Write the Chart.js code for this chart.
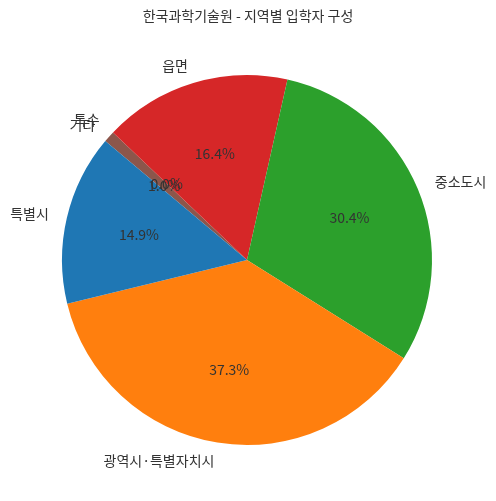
<!DOCTYPE html>
<html><head><meta charset="utf-8">
<script src="https://cdn.jsdelivr.net/npm/chart.js@4"></script>
<style>html,body{margin:0;padding:0;background:#fff;}canvas{display:block;}</style>
</head><body>
<canvas id="c" width="496" height="501"></canvas>
<script>
const titleText = "한국과학기술원 - 지역별 입학자 구성";
// matplotlib order (counterclockwise from 140deg)
const categories = ["특별시", "광역시·특별자치시", "중소도시", "읍면", "특수", "기타"];
const values = [14.9, 37.3, 30.4, 16.4, 0.0, 1.0];
const colors = ["#1f77b4", "#ff7f0e", "#2ca02c", "#d62728", "#9467bd", "#8c564b"];

// Chart.js draws clockwise; reverse to mimic counterclockwise layout
const labelsCW = categories.slice().reverse();
const valuesCW = values.slice().reverse();
const colorsCW = colors.slice().reverse();
const FONT = '"Noto Sans CJK KR", "Noto Sans", sans-serif';

const textPlugin = {
  id: 'pieText',
  afterDraw(chart) {
    const ctx = chart.ctx;
    const meta = chart.getDatasetMeta(0);
    ctx.save();
    ctx.fillStyle = '#333333';
    ctx.font = '14px ' + FONT;
    ctx.textAlign = 'center';
    ctx.textBaseline = 'middle';
    ctx.fillText(titleText, 248, 16);
    const total = valuesCW.reduce((a, b) => a + b, 0);
    meta.data.forEach((arc, i) => {
      const p = arc.getProps(['x', 'y', 'startAngle', 'endAngle', 'outerRadius'], true);
      const mid = (p.startAngle + p.endAngle) / 2;
      const r = p.outerRadius;
      const lx = p.x + Math.cos(mid) * r * 1.1;
      const ly = p.y + Math.sin(mid) * r * 1.1;
      ctx.fillStyle = '#333333';
      ctx.textAlign = Math.cos(mid) >= 0 ? 'left' : 'right';
      ctx.fillText(labelsCW[i], lx, ly);
      const px = p.x + Math.cos(mid) * r * 0.6;
      const py = p.y + Math.sin(mid) * r * 0.6;
      ctx.textAlign = 'center';
      ctx.fillText((valuesCW[i] / total * 100).toFixed(1) + '%', px, py);
    });
    ctx.restore();
  }
};

new Chart(document.getElementById('c'), {
  type: 'pie',
  data: {
    labels: labelsCW,
    datasets: [{ data: valuesCW, backgroundColor: colorsCW, borderWidth: 0 }]
  },
  options: {
    responsive: false,
    animation: false,
    rotation: -50,
    layout: { padding: { left: 62, right: 64, top: 75, bottom: 56 } },
    plugins: { legend: { display: false }, title: { display: false }, tooltip: { enabled: false } }
  },
  plugins: [textPlugin]
});
</script>
</body></html>
